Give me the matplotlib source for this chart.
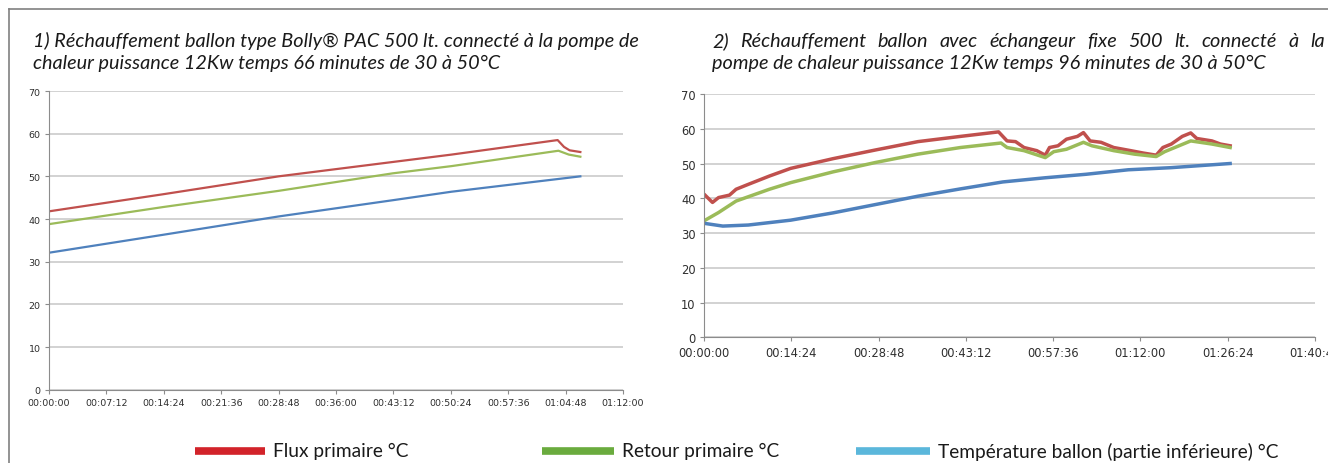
import numpy as np
import matplotlib.pyplot as plt
from matplotlib.lines import Line2D
from matplotlib.ticker import FixedLocator, FuncFormatter

# ---- data (time in minutes, temperature in °C) ----
t1_red = [0, 14.3, 28.8, 50.5, 63.8, 64.6, 65.3, 66.65]
flux1 = [41.8, 45.8, 50.0, 55.1, 58.5, 56.9, 56.1, 55.7]
t1_green = [0, 14.3, 28.8, 43.1, 50.5, 63.9, 65.2, 66.65]
retour1 = [38.8, 42.8, 46.6, 50.7, 52.4, 56.0, 55.1, 54.6]
t1_blue = [0, 14.3, 28.8, 43.1, 50.5, 66.65]
ballon1 = [32.1, 36.3, 40.6, 44.4, 46.4, 50.0]

t2_red = [0, 1.4, 2.4, 4.2, 5.3, 7.3, 10.8, 14.3, 21.3, 28.3, 35.3, 42.3, 48.6,
          50.0, 51.4, 52.8, 54.9, 56.3, 57.0, 58.4, 59.8, 61.6, 62.6, 63.7, 65.5,
          67.6, 70.4, 72.5, 74.6, 75.7, 77.1, 78.9, 80.3, 81.3, 83.8, 85.2, 86.8]
flux2 = [41.2, 38.8, 40.2, 40.9, 42.6, 44.0, 46.4, 48.6, 51.4, 53.9, 56.3, 57.8, 59.1,
         56.5, 56.3, 54.6, 53.7, 52.4, 54.6, 55.1, 57.0, 57.8, 58.9, 56.5, 56.1,
         54.6, 53.7, 53.0, 52.4, 54.6, 55.6, 57.8, 58.8, 57.2, 56.5, 55.6, 55.1]
t2_green = [0, 2.4, 5.3, 10.8, 14.3, 21.3, 28.3, 35.3, 42.3, 49.0, 50.0, 52.8,
            56.3, 57.7, 59.8, 62.6, 64.0, 67.6, 71.0, 74.6, 76.0, 80.3, 83.8, 86.8]
retour2 = [33.5, 35.9, 39.2, 42.6, 44.5, 47.6, 50.3, 52.7, 54.6, 55.9, 54.6, 53.7,
           51.7, 53.4, 54.1, 56.1, 55.1, 53.7, 52.7, 52.0, 53.4, 56.5, 55.6, 54.6]
t2_blue = [0, 3.1, 7.3, 14.3, 21.3, 28.3, 35.3, 42.3, 49.3, 56.3, 63.0, 70.0, 77.0, 86.8]
ballon2 = [32.8, 32.0, 32.3, 33.7, 35.8, 38.2, 40.6, 42.7, 44.7, 45.9, 46.9, 48.2, 48.8, 50.0]

title1 = ["1) Réchauffement ballon type Bolly® PAC 500 lt. connecté à la pompe de",
          "chaleur puissance 12Kw temps 66 minutes de 30 à 50°C"]
title2 = ["2) Réchauffement ballon avec échangeur fixe 500 lt. connecté à la",
          "pompe de chaleur puissance 12Kw temps 96 minutes de 30 à 50°C"]
legend_labels = ["Flux primaire °C", "Retour primaire °C",
                 "Température ballon (partie inférieure) °C"]

line_colors = ["#C0504D", "#9BBB59", "#4F81BD"]
legend_colors = ["#D2232A", "#6AAB3E", "#5BB7DB"]

W, H = 1328, 464
fig = plt.figure(figsize=(W / 100, H / 100), dpi=100)


def px_axes(x0, y0, x1, y1):
    return fig.add_axes([x0 / W, 1 - y1 / H, (x1 - x0) / W, (y1 - y0) / H])


def fmt_time(v, pos):
    s = int(round(v * 60))
    return "%02d:%02d:%02d" % (s // 3600, (s % 3600) // 60, s % 60)


def style(ax, xmax, step, fs):
    ax.set_xlim(0, xmax)
    ax.set_ylim(0, 70)
    ax.xaxis.set_major_locator(FixedLocator(np.arange(0, xmax + 0.01, step)))
    ax.xaxis.set_major_formatter(FuncFormatter(fmt_time))
    ax.set_yticks(range(0, 71, 10))
    ax.grid(axis="y", color="#C6C6C6", lw=1.1)
    ax.set_axisbelow(True)
    for s in ["top", "right"]:
        ax.spines[s].set_visible(False)
    for s in ["left", "bottom"]:
        ax.spines[s].set_color("#8C8C8C")
    ax.tick_params(colors="#8C8C8C", length=3, labelcolor="#2E2E2E", labelsize=fs, pad=3)


ax1 = px_axes(49, 92, 623, 390.7)
style(ax1, 72, 7.2, 6.8)
ax1.plot(t1_red, flux1, color=line_colors[0], lw=1.6)
ax1.plot(t1_green, retour1, color=line_colors[1], lw=1.6)
ax1.plot(t1_blue, ballon1, color=line_colors[2], lw=1.6)

ax2 = px_axes(704, 95, 1315, 338.3)
style(ax2, 100.8, 14.4, 8.3)
ax2.plot(t2_red, flux2, color=line_colors[0], lw=2.5)
ax2.plot(t2_green, retour2, color=line_colors[1], lw=2.5)
ax2.plot(t2_blue, ballon2, color=line_colors[2], lw=2.5)

# frame lines of the page
fig.add_artist(Line2D([9 / W, 9 / W], [0, 1 - 10 / H], color="#808080", lw=1.2))
fig.add_artist(Line2D([9 / W, 1], [1 - 10 / H, 1 - 10 / H], color="#808080", lw=1.2))

tfont = dict(family="Lato", style="italic", color="#1A1A1A", fontsize=14.3)
fig.text(33 / W, 1 - 47 / H, title1[0], **tfont)
fig.text(33 / W, 1 - 69 / H, title1[1], **tfont)

# justified first line of the second title
renderer = fig.canvas.get_renderer()
words = title2[0].split()
widths = []
for w in words:
    tt = fig.text(0, 0, w, **tfont)
    widths.append(tt.get_window_extent(renderer).width)
    tt.remove()
gap = (1325 - 712 - sum(widths)) / (len(words) - 1)
x = 712
for w, wd in zip(words, widths):
    fig.text(x / W, 1 - 47 / H, w, **tfont)
    x += wd + gap
fig.text(712 / W, 1 - 69 / H, title2[1], **tfont)

# legend
sw = [(195, 265), (542, 614), (856, 930)]
for (a, b), c, lab in zip(sw, legend_colors, legend_labels):
    fig.add_artist(Line2D([a / W, b / W], [1 - 451.5 / H] * 2, color=c, lw=5.5,
                          solid_capstyle="butt"))
    fig.text((b + 8) / W, 1 - 451.5 / H, lab, family="Lato", fontsize=13.8,
             color="#1A1A1A", va="center")

fig.savefig("out.png", dpi=100)
